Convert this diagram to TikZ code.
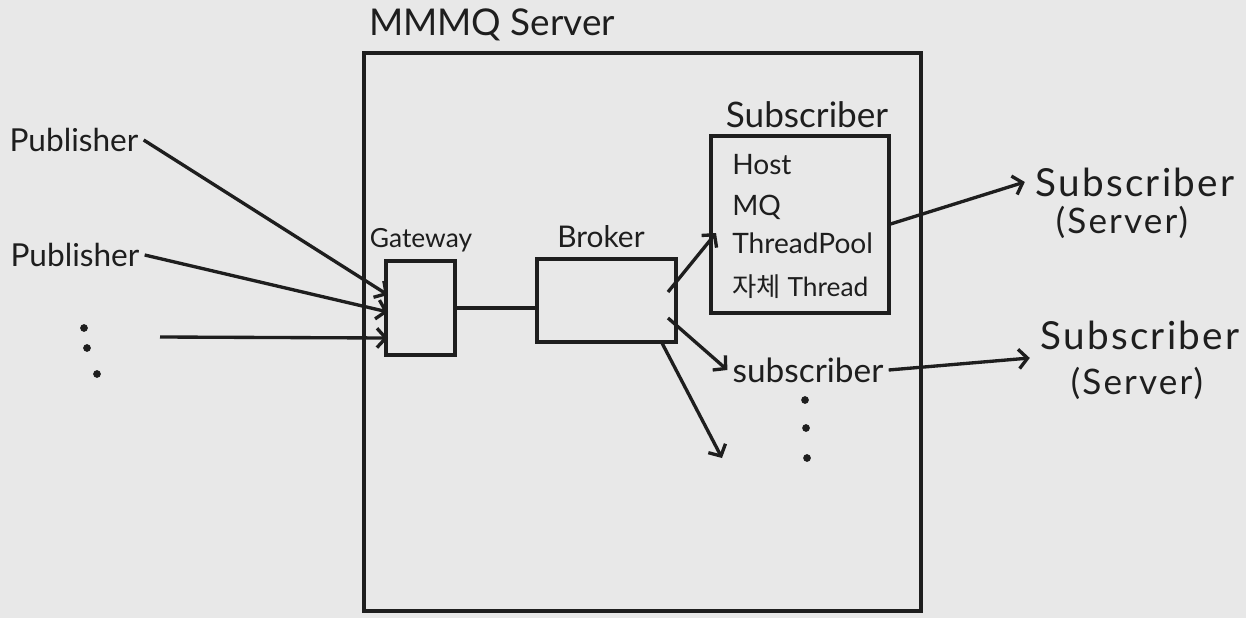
\documentclass[tikz,border=0pt]{standalone}
\usepackage{fontspec}
\setmainfont{Lato}
\newfontfamily\krfont{Noto Sans CJK KR}
\newfontfamily\widefont[LetterSpace=6]{Lato}
\usetikzlibrary{arrows.meta,calc}
\definecolor{bgc}{HTML}{E8E8E8}
\definecolor{ink}{HTML}{1E1E1E}
\newcommand{\fsz}[1]{\fontsize{#1}{1.2\dimexpr#1\relax}\selectfont}
\begin{document}
\begin{tikzpicture}[x=0.02cm,y=-0.02cm,
  box/.style={draw=ink, line width=2pt, inner sep=0pt, outer sep=0pt},
  txt/.style={inner sep=0pt, outer sep=3pt, text=ink},
  arr/.style={draw=ink, line width=1.9pt, -{Straight Barb[length=5pt,width=11pt]}},
  ln/.style={draw=ink, line width=1.9pt},
  dot/.style={fill=ink}]
\fill[bgc] (0,0) rectangle (1246,618);
\useasboundingbox (0,0) rectangle (1246,618);

% boxes
\node[box, minimum width=11.14cm, minimum height=11.16cm] (srv) at (642.5,332) {};
\node[box, minimum width=1.38cm, minimum height=1.88cm] (gw) at (420.5,308) {};
\node[box, minimum width=2.78cm, minimum height=1.66cm] (br) at (606.5,300.5) {};
\node[box, minimum width=3.56cm, minimum height=3.54cm] (sb) at (800,224.5) {};

% labels
\node[txt, font=\fsz{21pt}] (srvl) at (492,25) {MMMQ Server};
\node[txt, font=\fsz{15pt}] (gwl) at (421,240) {Gateway};
\node[txt, font=\fsz{17pt}] (brl) at (601,237) {Broker};
\node[txt, font=\fsz{20pt}] (sbl) at (807,115) {Subscriber};

\node[txt, anchor=west, font=\fsz{16pt}] (host) at (727,165) {Host};
\node[txt, anchor=west, font=\fsz{16pt}] (mq) at (727,207) {MQ};
\node[txt, anchor=west, font=\fsz{16pt}] (tp) at (727,243) {ThreadPool};
\node[txt, anchor=west, font=\fsz{15pt}] (own) at (727,287) {{\krfont 자체} Thread};

\node[txt, font=\fsz{18pt}] (pub1) at (74,140) {Publisher};
\node[txt, font=\fsz{18pt}] (pub2) at (75,255) {Publisher};
\fill[dot] (84,328) circle (2.2pt);
\fill[dot] (87,348) circle (2.2pt);
\fill[dot] (97,374) circle (2.2pt);
\coordinate (p3) at (160,337);

\node[txt, font=\fsz{19pt}] (sub2) at (808,370) {subscriber};
\fill[dot] (805,400) circle (2.2pt);
\fill[dot] (806,428) circle (2.2pt);
\fill[dot] (807,458) circle (2.2pt);
\coordinate (e3) at (722,458);

\node[txt, outer sep=6pt, font=\widefont\fsz{22pt}] (ss1) at (1135,182) {Subscriber};
\node[txt, font=\widefont\fsz{20pt}] (ss1b) at (1122,222) {(Server)};
\node[txt, outer sep=6pt, font=\widefont\fsz{22pt}] (ss2) at (1140,335) {Subscriber};
\node[txt, font=\widefont\fsz{20pt}] (ss2b) at (1137,383) {(Server)};

% connectors
\draw[arr] (pub1.east) -- ($(gw.north west)+(2,34)$);
\draw[arr] (pub2.east) -- ($(gw.north west)+(2,51)$);
\draw[arr] (p3) -- ($(gw.north west)+(2,77)$);
\draw[ln] (gw.east) -- (gw.east -| br.west);
\draw[arr] ($(br.east)+(-8,-8.5)$) -- ($(sb.west)+(5,8.5)$);
\draw[arr] ($(br.east)+(-8,17.5)$) -- (sub2.west);
\draw[arr] ($(br.south east)+(-14,1)$) -- (e3);
\draw[arr] (sb.east) -- (ss1.west);
\draw[arr] (sub2.east) -- ($(ss2.west)+(0,23)$);
\end{tikzpicture}
\end{document}
